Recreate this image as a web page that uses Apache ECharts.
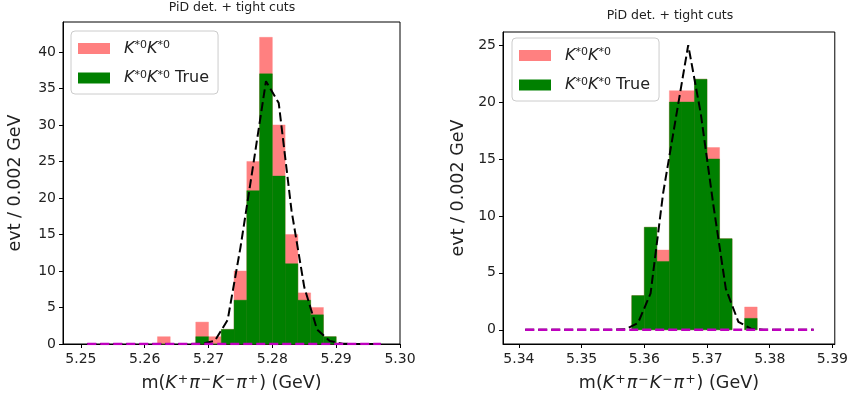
<!DOCTYPE html>
<html>
<head>
<meta charset="utf-8">
<script src="https://cdn.jsdelivr.net/npm/echarts@6/dist/echarts.min.js"></script>
<style>
  html, body { margin: 0; padding: 0; background: #fff; }
  #chart { width: 851px; height: 403px; }
</style>
</head>
<body>
<div id="chart"></div>
<script>
// Histogram bin width (GeV)
const binWidth = 0.002;

// Left panel: B0 -> K*0 K*0 candidates
const leftBinLo   = [5.262, 5.268, 5.270, 5.272, 5.274, 5.276, 5.278, 5.280, 5.282, 5.284, 5.286, 5.288];
const leftAll     = [1, 3, 1, 2, 10, 25, 42, 30, 15, 7, 5, 1];
const leftTrue    = [0, 1, 0, 2, 6, 21, 37, 23, 11, 6, 4, 1];
const leftFitX    = [5.251, 5.253, 5.255, 5.257, 5.259, 5.261, 5.263, 5.265, 5.267, 5.269, 5.271, 5.273,
                     5.275, 5.277, 5.279, 5.281, 5.283, 5.285, 5.287, 5.289, 5.291, 5.293, 5.295, 5.297];
const leftFitY    = [0, 0, 0, 0, 0, 0, 0, 0, 0, 0.05, 0.45, 3.3,
                     13.2, 24.5, 36, 33, 18.3, 7.8, 2.0, 0.4, 0.05, 0, 0, 0];
const leftBkgY    = [0, 0, 0, 0, 0, 0, 0, 0, 0, 0, 0, 0,
                     0, 0, 0, 0, 0, 0, 0, 0, 0, 0, 0, 0];
const leftXTicks  = [5.25, 5.26, 5.27, 5.28, 5.29, 5.30];
const leftYTicks  = [0, 5, 10, 15, 20, 25, 30, 35, 40];

// Right panel: Bs -> K*0 K*0 candidates
const rightBinLo  = [5.358, 5.360, 5.362, 5.364, 5.366, 5.368, 5.370, 5.372, 5.376];
const rightAll    = [3, 9, 7, 21, 21, 22, 16, 8, 2];
const rightTrue   = [3, 9, 6, 20, 20, 22, 15, 8, 1];
const rightFitX   = [5.341, 5.343, 5.345, 5.347, 5.349, 5.351, 5.353, 5.355, 5.357, 5.359, 5.361, 5.363,
                     5.365, 5.367, 5.369, 5.371, 5.373, 5.375, 5.377, 5.379, 5.381, 5.383, 5.385, 5.387];
const rightFitY   = [0, 0, 0, 0, 0, 0, 0, 0, 0.05, 0.6, 3.2, 12.0,
                     18.5, 25.0, 19.0, 11.0, 3.6, 0.7, 0.1, 0, 0, 0, 0, 0];
const rightBkgY   = [0, 0, 0, 0, 0, 0, 0, 0, 0, 0, 0, 0,
                     0, 0, 0, 0, 0, 0, 0, 0, 0, 0, 0, 0];
const rightXTicks = [5.34, 5.35, 5.36, 5.37, 5.38, 5.39];
const rightYTicks = [0, 5, 10, 15, 20, 25];

const titleText = 'PiD det. + tight cuts';
const yName = 'evt / 0.002 GeV';
const xName = 'm({i|K}{u|+}{i|π}{u|−}{i|K}{u|−}{i|π}{u|+}) (GeV)';
const nameAll = 'K*0K*0';
const nameTrue = 'K*0K*0 True';

const FONT = 'DejaVu Sans';
const PINK = '#ff8080';
const GREEN = '#008000';
const TEXT = '#222';
const NAME_SIZE = 17.5;

const zip = (xs, ys) => xs.map((x, i) => [x, ys[i]]);

// One histogram bin: rectangle from the bin's low edge to low edge + width, 0 to count
function renderBin(params, api) {
  const lo = api.value(0);
  const n = api.value(1);
  const p0 = api.coord([lo, n]);
  const p1 = api.coord([lo + binWidth, 0]);
  const color = api.visual('color');
  return {
    type: 'rect',
    shape: { x: p0[0], y: p0[1], width: p1[0] - p0[0], height: p1[1] - p0[1] },
    style: { fill: color, stroke: color, lineWidth: 0.4 }
  };
}

function xAxisCfg(idx, min, max, ticks) {
  return {
    type: 'value', gridIndex: idx, min: min, max: max,
    name: xName, nameLocation: 'middle', nameGap: 29,
    nameTextStyle: {
      fontFamily: FONT, fontSize: NAME_SIZE, color: TEXT,
      rich: {
        i: { fontStyle: 'italic', fontFamily: FONT, fontSize: NAME_SIZE, color: TEXT },
        u: { fontFamily: FONT, fontSize: 12.5, color: TEXT, verticalAlign: 'top', padding: [0, 1, 7, 1] }
      }
    },
    axisLine: { show: true, onZero: false, lineStyle: { color: '#000', width: 1 } },
    axisTick: { show: true, length: 4, customValues: ticks, lineStyle: { color: '#000' } },
    axisLabel: { customValues: ticks, fontFamily: FONT, fontSize: 14, color: TEXT, margin: 8,
                 formatter: v => v.toFixed(2) },
    splitLine: { show: false }
  };
}

function yAxisCfg(idx, min, max, ticks, gap) {
  return {
    type: 'value', gridIndex: idx, min: min, max: max,
    name: yName, nameLocation: 'middle', nameRotate: 90, nameGap: gap,
    nameTextStyle: { fontFamily: FONT, fontSize: NAME_SIZE, color: TEXT },
    axisLine: { show: true, onZero: false, lineStyle: { color: '#000', width: 1 } },
    axisTick: { show: true, length: 4, customValues: ticks, lineStyle: { color: '#000' } },
    axisLabel: { customValues: ticks, fontFamily: FONT, fontSize: 14, color: TEXT, margin: 7 },
    splitLine: { show: false }
  };
}

function legendCfg(left, top) {
  return {
    orient: 'vertical', left: left, top: top,
    data: [nameAll, nameTrue],
    icon: 'rect', itemWidth: 32, itemHeight: 11, itemGap: 13,
    padding: [9, 9, 8, 7],
    borderColor: '#cccccc', borderWidth: 1, borderRadius: 4,
    backgroundColor: 'rgba(255,255,255,0.8)',
    selectedMode: false,
    formatter: name => name === nameTrue
      ? '{i|K}{s|*0}{i|K}{s|*0} True'
      : '{i|K}{s|*0}{i|K}{s|*0}',
    textStyle: {
      fontFamily: FONT, fontSize: 16, color: TEXT, padding: [0, 0, 0, 9],
      rich: {
        i: { fontStyle: 'italic', fontFamily: FONT, fontSize: 16, color: TEXT },
        s: { fontFamily: FONT, fontSize: 11, color: TEXT, verticalAlign: 'top', padding: [0, 0, 6, 0] }
      }
    }
  };
}

function histSeries(name, idx, lo, counts, color) {
  return {
    type: 'custom', name: name, xAxisIndex: idx, yAxisIndex: idx,
    renderItem: renderBin, itemStyle: { color: color },
    data: zip(lo, counts), silent: true
  };
}

function lineSeries(idx, xs, ys, color, width) {
  return {
    type: 'line', xAxisIndex: idx, yAxisIndex: idx,
    data: zip(xs, ys), showSymbol: false, symbol: 'none',
    lineStyle: { color: color, width: width, type: [9, 4] },
    silent: true, animation: false
  };
}

const titleStyle = { fontFamily: FONT, fontSize: 12.5, fontWeight: 'normal', color: TEXT };

const chart = echarts.init(document.getElementById('chart'), null, { renderer: 'canvas' });
chart.setOption({
  animation: false,
  backgroundColor: '#fff',
  title: [
    { text: titleText, left: 232, top: 1, padding: 0, textAlign: 'center', textStyle: titleStyle },
    { text: titleText, left: 670, top: 9, padding: 0, textAlign: 'center', textStyle: titleStyle }
  ],
  legend: [legendCfg(71, 31), legendCfg(512, 38)],
  grid: [
    { left: 63, top: 22, width: 337, height: 322, show: true, borderColor: '#000', borderWidth: 1 },
    { left: 503, top: 32, width: 334, height: 312, show: true, borderColor: '#000', borderWidth: 1 }
  ],
  xAxis: [
    xAxisCfg(0, 5.2472, 5.30, leftXTicks),
    xAxisCfg(1, 5.33746, 5.39038, rightXTicks)
  ],
  yAxis: [
    yAxisCfg(0, 0, 44.1, leftYTicks, 39),
    yAxisCfg(1, -1.25, 26.15, rightYTicks, 36)
  ],
  series: [
    histSeries(nameAll, 0, leftBinLo, leftAll, PINK),
    histSeries(nameTrue, 0, leftBinLo, leftTrue, GREEN),
    lineSeries(0, leftFitX, leftFitY, '#000', 2),
    lineSeries(0, leftFitX, leftBkgY, '#bf00bf', 2.5),
    histSeries(nameAll, 1, rightBinLo, rightAll, PINK),
    histSeries(nameTrue, 1, rightBinLo, rightTrue, GREEN),
    lineSeries(1, rightFitX, rightFitY, '#000', 2),
    lineSeries(1, rightFitX, rightBkgY, '#bf00bf', 2.5)
  ]
});
</script>
</body>
</html>
